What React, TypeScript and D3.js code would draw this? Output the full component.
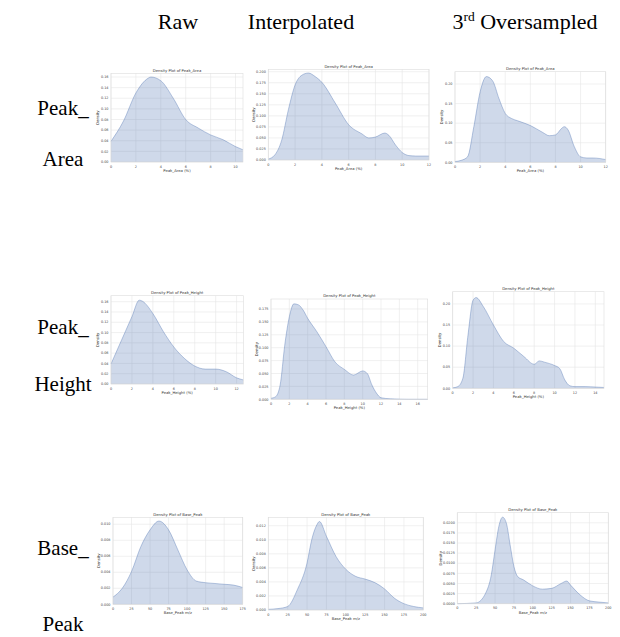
import React from "react";
import * as d3 from "d3";

// ---- headers / labels ----
const colHeaders = ["Raw", "Interpolated", "Oversampled"];
const rowLabels = [["Peak_", "Area"], ["Peak_", "Height"], ["Base_", "Peak"]];
const plotTitles = ["Density Plot of Peak_Area", "Density Plot of Peak_Height", "Density Plot of Base_Peak"];
const xLabels = ["Peak_Area (%)", "Peak_Height (%)", "Base_Peak m/z"];

// ---- Peak_Area ----
const rawAreaX = [0, 1, 2, 3, 3.2, 4, 5, 6, 7, 8, 9, 10, 10.6];
const rawAreaY = [0.039, 0.077, 0.13, 0.158, 0.16, 0.153, 0.12, 0.08, 0.064, 0.051, 0.042, 0.029, 0.023];
const intAreaX = [0, 0.5, 1, 1.5, 2, 2.5, 3, 3.5, 4, 5, 6, 7, 7.5, 8, 8.7, 9, 9.5, 10, 10.5, 11, 12];
const intAreaY = [0.002, 0.012, 0.045, 0.114, 0.17, 0.192, 0.197, 0.189, 0.176, 0.129, 0.08, 0.059, 0.05, 0.052, 0.061, 0.056, 0.034, 0.017, 0.01, 0.009, 0.009];
const ovsAreaX = [0, 0.5, 1, 1.5, 2, 2.5, 3, 3.5, 4, 4.5, 5, 6, 7, 7.5, 8, 8.5, 8.7, 9, 9.5, 10, 10.5, 11, 12];
const ovsAreaY = [0.002, 0.005, 0.014, 0.091, 0.18, 0.219, 0.208, 0.163, 0.125, 0.112, 0.106, 0.094, 0.076, 0.068, 0.07, 0.087, 0.091, 0.083, 0.04, 0.014, 0.011, 0.011, 0.007];

// ---- Peak_Height ----
const rawHeightX = [0, 1, 2, 2.7, 3, 4, 5, 6, 7, 8, 9, 10, 11, 12, 12.64];
const rawHeightY = [0.039, 0.085, 0.131, 0.163, 0.161, 0.137, 0.102, 0.072, 0.05, 0.035, 0.029, 0.029, 0.024, 0.012, 0.008];
const intHeightX = [0, 0.5, 1, 1.5, 2, 2.5, 3, 3.5, 4, 5, 6, 7, 8, 9, 10, 10.5, 11, 11.5, 12, 13, 15, 17.09];
const intHeightY = [0.002, 0.005, 0.028, 0.105, 0.16, 0.185, 0.183, 0.173, 0.157, 0.131, 0.102, 0.072, 0.058, 0.047, 0.055, 0.05, 0.028, 0.012, 0.003, 0.001, 0.0, 0.0];
const ovsHeightX = [0, 0.5, 1, 1.5, 2, 2.3, 3, 4, 5, 6, 7, 8, 8.5, 9, 10, 10.5, 11, 11.5, 12, 13, 14, 14.85];
const ovsHeightY = [0.001, 0.004, 0.024, 0.126, 0.209, 0.215, 0.194, 0.15, 0.111, 0.095, 0.075, 0.057, 0.065, 0.062, 0.054, 0.047, 0.02, 0.006, 0.004, 0.004, 0.003, 0.002];

// ---- Base_Peak ----
const rawBaseX = [0, 12.5, 25, 37.5, 50, 62, 75, 87.5, 100, 112.5, 125, 137.5, 150, 162.5, 175];
const rawBaseY = [0.0009, 0.002, 0.0041, 0.0072, 0.0093, 0.0104, 0.0093, 0.0068, 0.0043, 0.0029, 0.0027, 0.0026, 0.0025, 0.0024, 0.0021];
const intBaseX = [0, 12.5, 25, 37.5, 50, 56, 62.5, 66, 75, 87.5, 100, 112.5, 125, 137.5, 150, 162.5, 175, 187.5, 200];
const intBaseY = [0.0001, 0.0002, 0.0005, 0.0029, 0.0067, 0.01, 0.0121, 0.0126, 0.0105, 0.0076, 0.0058, 0.0048, 0.0044, 0.0039, 0.003, 0.0017, 0.0009, 0.0005, 0.0003];
const ovsBaseX = [0, 25, 37.5, 45, 50, 55, 60, 65, 70, 75, 80, 87.5, 100, 112.5, 125, 137.5, 145, 150, 162.5, 175, 187.5, 200];
const ovsBaseY = [0, 0.0002, 0.0026, 0.0071, 0.0133, 0.0191, 0.0214, 0.0199, 0.0145, 0.0092, 0.0067, 0.0059, 0.0044, 0.0036, 0.0038, 0.005, 0.0056, 0.0046, 0.0022, 0.0007, 0.0004, 0.0002];

// ---- axis ticks ----
const xTicksArea = [0, 2, 4, 6, 8, 10, 12];
const xTicksHeight = [0, 2, 4, 6, 8, 10, 12, 14, 16];
const xTicksBase = [0, 25, 50, 75, 100, 125, 150, 175, 200];
const yTicksRawArea = [0, 0.02, 0.04, 0.06, 0.08, 0.1, 0.12, 0.14, 0.16];
const yTicksIntArea = [0, 0.025, 0.05, 0.075, 0.1, 0.125, 0.15, 0.175, 0.2];
const yTicksOvsArea = [0, 0.05, 0.1, 0.15, 0.2];
const yTicksRawHeight = [0, 0.02, 0.04, 0.06, 0.08, 0.1, 0.12, 0.14, 0.16];
const yTicksIntHeight = [0, 0.025, 0.05, 0.075, 0.1, 0.125, 0.15, 0.175];
const yTicksOvsHeight = [0, 0.05, 0.1, 0.15, 0.2];
const yTicksRawBase = [0, 0.002, 0.004, 0.006, 0.008, 0.01];
const yTicksIntBase = [0, 0.002, 0.004, 0.006, 0.008, 0.01, 0.012];
const yTicksOvsBase = [0, 0.0025, 0.005, 0.0075, 0.01, 0.0125, 0.015, 0.0175, 0.02];

type PanelSpec = {
  xs: number[]; ys: number[]; left: number; right: number; top: number; bottom: number;
  xMax: number; yMax: number; xTicks: number[]; yTicks: number[]; yFmt: string;
  title: string; xLabel: string;
};

const panels: PanelSpec[] = [
  { xs: rawAreaX, ys: rawAreaY, left: 111, right: 243, top: 73.3, bottom: 162, xMax: 10.6, yMax: 0.167, xTicks: xTicksArea, yTicks: yTicksRawArea, yFmt: ".2f", title: plotTitles[0], xLabel: xLabels[0] },
  { xs: intAreaX, ys: intAreaY, left: 268.3, right: 429, top: 69.3, bottom: 160, xMax: 12, yMax: 0.2055, xTicks: xTicksArea, yTicks: yTicksIntArea, yFmt: ".3f", title: plotTitles[0], xLabel: xLabels[0] },
  { xs: ovsAreaX, ys: ovsAreaY, left: 455, right: 605.7, top: 71.7, bottom: 162.3, xMax: 12, yMax: 0.2315, xTicks: xTicksArea, yTicks: yTicksOvsArea, yFmt: ".2f", title: plotTitles[0], xLabel: xLabels[0] },
  { xs: rawHeightX, ys: rawHeightY, left: 111, right: 243.3, top: 295.7, bottom: 384, xMax: 12.64, yMax: 0.1717, xTicks: xTicksArea, yTicks: yTicksRawHeight, yFmt: ".2f", title: plotTitles[1], xLabel: xLabels[1] },
  { xs: intHeightX, ys: intHeightY, left: 271, right: 427.7, top: 299, bottom: 399.3, xMax: 17.09, yMax: 0.1944, xTicks: xTicksHeight, yTicks: yTicksIntHeight, yFmt: ".3f", title: plotTitles[1], xLabel: xLabels[1] },
  { xs: ovsHeightX, ys: ovsHeightY, left: 452.7, right: 604, top: 291.7, bottom: 388.3, xMax: 14.85, yMax: 0.229, xTicks: xTicksHeight, yTicks: yTicksOvsHeight, yFmt: ".2f", title: plotTitles[1], xLabel: xLabels[1] },
  { xs: rawBaseX, ys: rawBaseY, left: 113, right: 242.7, top: 517.3, bottom: 604.3, xMax: 175, yMax: 0.01087, xTicks: xTicksBase, yTicks: yTicksRawBase, yFmt: ".3f", title: plotTitles[2], xLabel: xLabels[2] },
  { xs: intBaseX, ys: intBaseY, left: 268.3, right: 423.3, top: 517.3, bottom: 610, xMax: 200, yMax: 0.0132, xTicks: xTicksBase, yTicks: yTicksIntBase, yFmt: ".3f", title: plotTitles[2], xLabel: xLabels[2] },
  { xs: ovsBaseX, ys: ovsBaseY, left: 457.3, right: 608.3, top: 512.7, bottom: 603.7, xMax: 200, yMax: 0.0225, xTicks: xTicksBase, yTicks: yTicksOvsBase, yFmt: ".4f", title: plotTitles[2], xLabel: xLabels[2] },
];

const SMALL = "'DejaVu Sans', sans-serif";

function Panel({ p }: { p: PanelSpec }) {
  const x = d3.scaleLinear().domain([0, p.xMax]).range([p.left, p.right]);
  const y = d3.scaleLinear().domain([0, p.yMax]).range([p.bottom, p.top]);
  const xt = p.xTicks.filter(t => t <= p.xMax + 1e-9);
  const pts = p.xs.map((v, i) => [v, p.ys[i]] as [number, number]);
  const area = d3.area<[number, number]>().x(d => x(d[0])).y0(y(0)).y1(d => y(d[1])).curve(d3.curveMonotoneX);
  const line = d3.line<[number, number]>().x(d => x(d[0])).y(d => y(d[1])).curve(d3.curveMonotoneX);
  const fmt = d3.format(p.yFmt);
  const cx = (p.left + p.right) / 2;
  const chars = fmt(p.yTicks[p.yTicks.length - 1]).length;
  const dOff = 4 + chars * 1.9;
  return (
    <g>
      {xt.map(t => (
        <line key={"gx" + t} x1={x(t)} x2={x(t)} y1={p.top} y2={p.bottom} stroke="#e6e6e6" strokeWidth={0.6} />
      ))}
      {p.yTicks.map(t => (
        <line key={"gy" + t} x1={p.left} x2={p.right} y1={y(t)} y2={y(t)} stroke="#e6e6e6" strokeWidth={0.6} />
      ))}
      <path d={area(pts) || ""} fill="#4c72b0" fillOpacity={0.27} />
      <path d={line(pts) || ""} fill="none" stroke="#4c72b0" strokeOpacity={0.55} strokeWidth={0.7} />
      <rect x={p.left} y={p.top} width={p.right - p.left} height={p.bottom - p.top} fill="none" stroke="#dcdcdc" strokeWidth={0.6} />
      {xt.map(t => (
        <text key={"tx" + t} x={x(t)} y={p.bottom + 5.5} fontSize={3.4} fontFamily={SMALL} fill="#444" textAnchor="middle">{t}</text>
      ))}
      {p.yTicks.map(t => (
        <text key={"ty" + t} x={p.left - 2.5} y={y(t) + 1.2} fontSize={3.4} fontFamily={SMALL} fill="#444" textAnchor="end">{fmt(t)}</text>
      ))}
      <text x={cx} y={p.top - 1.8} fontSize={3.8} fontFamily={SMALL} fill="#333" textAnchor="middle">{p.title}</text>
      <text x={cx} y={p.bottom + 9.8} fontSize={3.8} fontFamily={SMALL} fill="#333" textAnchor="middle">{p.xLabel}</text>
      <text transform={`translate(${p.left - dOff},${(p.top + p.bottom) / 2}) rotate(-90)`} fontSize={3.8} fontFamily={SMALL} fill="#333" textAnchor="middle">Density</text>
    </g>
  );
}

const SERIF = "'Liberation Serif', 'Times New Roman', serif";
const headerX = [178, 301, 525];
const rowY = [[115, 166], [334, 391], [555, 631]];

export default function App() {
  return (
    <svg width={620} height={637} style={{ position: "absolute", left: 0, top: 0, background: "#fff" }}>
      <rect width={620} height={637} fill="#fff" />
      <text x={headerX[0]} y={29} fontSize={22} fontFamily={SERIF} textAnchor="middle" fill="#000">{colHeaders[0]}</text>
      <text x={headerX[1]} y={29} fontSize={22} fontFamily={SERIF} textAnchor="middle" fill="#000">{colHeaders[1]}</text>
      <text x={headerX[2]} y={29} fontSize={22} fontFamily={SERIF} textAnchor="middle" fill="#000">
        3<tspan fontSize={13.5} dy={-8}>rd</tspan><tspan dy={8}> {colHeaders[2]}</tspan>
      </text>
      {rowLabels.map((r, i) => (
        <g key={i}>
          <text x={63} y={rowY[i][0]} fontSize={21} fontFamily={SERIF} textAnchor="middle" fill="#000">{r[0]}</text>
          <text x={63} y={rowY[i][1]} fontSize={21} fontFamily={SERIF} textAnchor="middle" fill="#000">{r[1]}</text>
        </g>
      ))}
      {panels.map((p, i) => <Panel key={i} p={p} />)}
    </svg>
  );
}
